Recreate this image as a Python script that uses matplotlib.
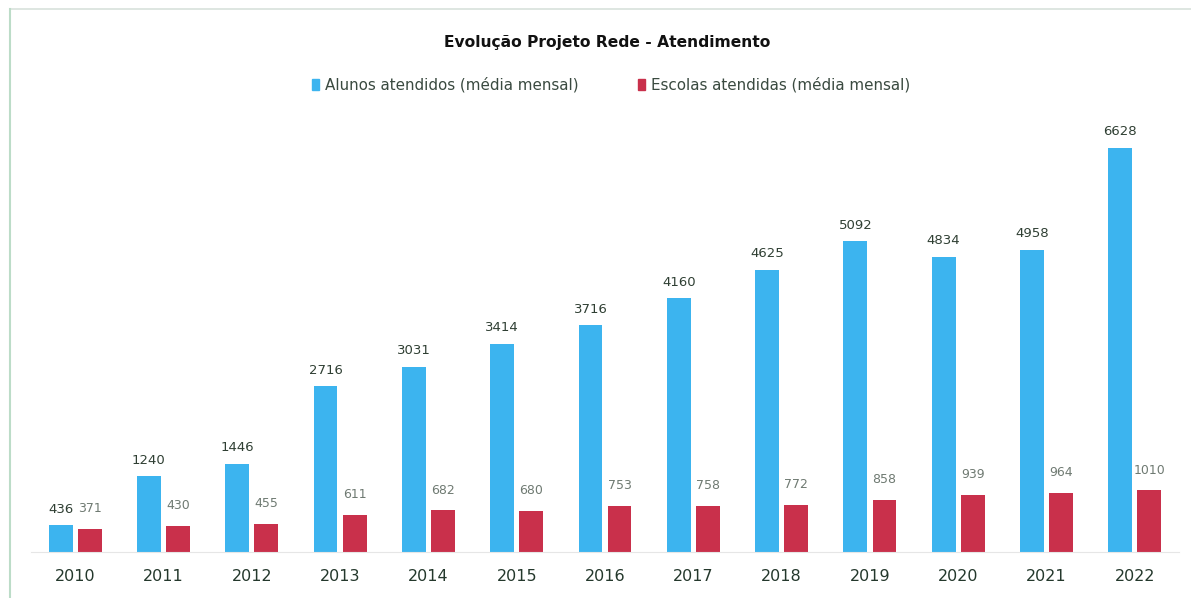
import numpy as np
import matplotlib.pyplot as plt
from matplotlib.patches import Patch
from matplotlib.lines import Line2D


ANOS = ['2010', '2011', '2012', '2013', '2014', '2015', '2016',
        '2017', '2018', '2019', '2020', '2021', '2022']
ALUNOS = [436, 1240, 1446, 2716, 3031, 3414, 3716, 4160, 4625, 5092, 4834, 4958, 6628]
ESCOLAS = [371, 430, 455, 611, 682, 680, 753, 758, 772, 858, 939, 964, 1010]

COR_ALUNOS = '#3cb4ef'
COR_ESCOLAS = '#c9304b'
TITULO = 'Evolução Projeto Rede - Atendimento'
LEGENDA = ('Alunos atendidos (média mensal)', 'Escolas atendidas (média mensal)')

W, H = 1191, 598
fig = plt.figure(figsize=(W / 100, H / 100), dpi=100)
ax = fig.add_axes([31 / W, 46 / H, 1148 / W, 427 / H])

x = np.arange(len(ANOS))
largura = 0.27
b1 = ax.bar(x - 0.165, ALUNOS, largura, color=COR_ALUNOS)
b2 = ax.bar(x + 0.165, ESCOLAS, largura, color=COR_ESCOLAS)

for rect, v in zip(b1, ALUNOS):
    ax.annotate(str(v), (rect.get_x() + rect.get_width() / 2, v),
                xytext=(0, 7), textcoords='offset points',
                ha='center', va='bottom', fontsize=9.5, color='#2f3f33')
for rect, v in zip(b2, ESCOLAS):
    ax.annotate(str(v), (rect.get_x() + rect.get_width() / 2, v),
                xytext=(0, 10), textcoords='offset points',
                ha='center', va='bottom', fontsize=9, color='#6f7a72')

ax.set_xlim(-0.5, 12.5)
ax.set_ylim(0, 7000)
ax.set_xticks(x)
ax.set_xticklabels(ANOS, fontsize=11.5, color='#24382c')
ax.tick_params(axis='x', length=0, pad=12)
ax.set_yticks([])
for lado in ('top', 'right', 'left'):
    ax.spines[lado].set_visible(False)
ax.spines['bottom'].set_color('#e6e6e6')

fig.text(0.51, (H - 42) / H, TITULO, ha='center', va='center',
         fontsize=11.2, fontweight='bold', color='#111111')
handles = [Patch(color=COR_ALUNOS), Patch(color=COR_ESCOLAS)]
fig.legend(handles, LEGENDA, loc='center', bbox_to_anchor=(0.513, (H - 85) / H),
           ncol=2, frameon=False, fontsize=10.9, handlelength=0.45, handleheight=0.75,
           handletextpad=0.4, columnspacing=3.9, labelcolor='#3a4a40')

# moldura da planilha
fig.add_artist(Line2D([10 / W, 1], [(H - 9) / H, (H - 9) / H],
                      transform=fig.transFigure, color='#d8e2dc', lw=1.2))
fig.add_artist(Line2D([10 / W, 10 / W], [0, (H - 9) / H],
                      transform=fig.transFigure, color='#bcdcc8', lw=1.5))

fig.savefig('out.png', dpi=100)
